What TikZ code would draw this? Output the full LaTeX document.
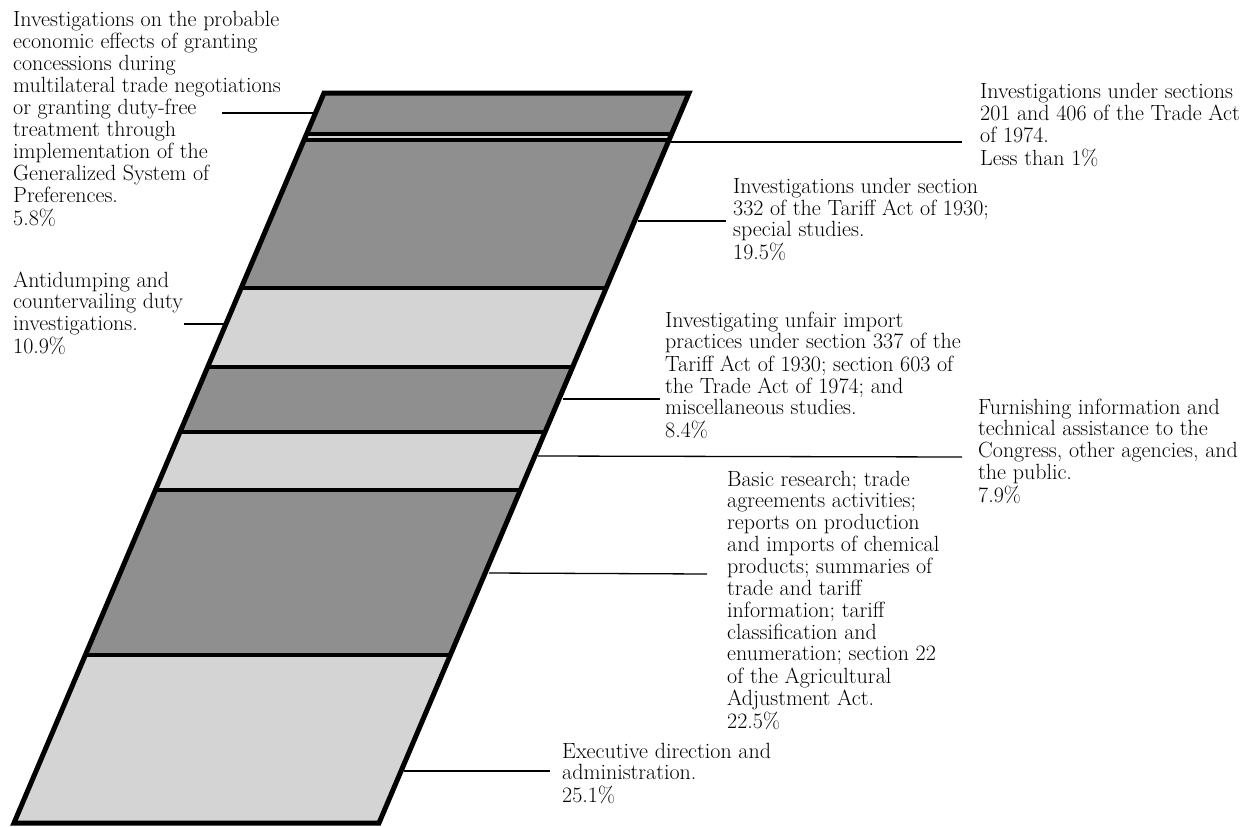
\documentclass[tikz,border=0pt]{standalone}
\usetikzlibrary{calc}
\definecolor{darkband}{gray}{0.56}
\definecolor{lightband}{gray}{0.83}
\begin{document}
\begin{tikzpicture}[x=1pt,y=-1pt,
  lbl/.style={inner sep=0pt,anchor=base west,font=\fontsize{22}{21.7}\selectfont},
  leader/.style={line width=1.3pt},
  darkfill/.style={fill=darkband},
  lightfill/.style={fill=lightband},
  sepline/.style={line width=3.5pt},
  border/.style={line width=5pt,line join=miter}]
\useasboundingbox (0,0) rectangle (1256,827);
% corners
\coordinate (TL) at (324,93);
\coordinate (TR) at (689,93);
\coordinate (BR) at (379,823);
\coordinate (BL) at (14,823);
% bands
\fill[darkfill]  (324,93) -- (689,93) -- (671.59,134) -- (306.59,134) -- cycle;
\fill[lightfill] (306.59,134) -- (671.59,134) -- (669.04,140) -- (304.04,140) -- cycle;
\fill[darkfill]  (304.04,140) -- (669.04,140) -- (606.19,288) -- (241.19,288) -- cycle;
\fill[lightfill] (241.19,288) -- (606.19,288) -- (572.64,367) -- (207.64,367) -- cycle;
\fill[darkfill]  (207.64,367) -- (572.64,367) -- (545.04,432) -- (180.04,432) -- cycle;
\fill[lightfill] (180.04,432) -- (545.04,432) -- (520.41,490) -- (155.41,490) -- cycle;
\fill[darkfill]  (155.41,490) -- (520.41,490) -- (450.34,655) -- (85.34,655) -- cycle;
\fill[lightfill] (85.34,655) -- (450.34,655) -- (379,823) -- (14,823) -- cycle;
% separators
\draw[sepline] (306.59,134) -- (671.59,134);
\draw[sepline] (304.04,140) -- (669.04,140);
\draw[sepline] (241.19,288) -- (606.19,288);
\draw[sepline] (207.64,367) -- (572.64,367);
\draw[sepline] (180.04,432) -- (545.04,432);
\draw[sepline] (155.41,490) -- (520.41,490);
\draw[sepline] (85.34,655) -- (450.34,655);
% border
\draw[border] (TL) -- (TR) -- (BR) -- (BL) -- cycle;

% labels
\node[lbl] (A) at (13,27) {\begin{tabular}[t]{@{}l@{}}Investigations on the probable\\economic effects of granting\\concessions during\\multilateral trade negotiations\\or granting duty-free\\treatment through\\implementation of the\\Generalized System of\\Preferences.\\5.8\%\end{tabular}};
\node[lbl] (B) at (980,98) {\begin{tabular}[t]{@{}l@{}}Investigations under sections\\201 and 406 of the Trade Act\\of 1974.\\Less than 1\%\end{tabular}};
\node[lbl] (C) at (733,193) {\begin{tabular}[t]{@{}l@{}}Investigations under section\\332 of the Tariff Act of 1930;\\special studies.\\19.5\%\end{tabular}};
\node[lbl] (D) at (13,287) {\begin{tabular}[t]{@{}l@{}}Antidumping and\\countervailing duty\\investigations.\\10.9\%\end{tabular}};
\node[lbl] (E) at (665,327) {\begin{tabular}[t]{@{}l@{}}Investigating unfair import\\practices under section 337 of the\\Tariff Act of 1930; section 603 of\\the Trade Act of 1974; and\\miscellaneous studies.\\8.4\%\end{tabular}};
\node[lbl] (F) at (978,414) {\begin{tabular}[t]{@{}l@{}}Furnishing information and\\technical assistance to the\\Congress, other agencies, and\\the public.\\7.9\%\end{tabular}};
\node[lbl] (G) at (727,486) {\begin{tabular}[t]{@{}l@{}}Basic research; trade\\agreements activities;\\reports on production\\and imports of chemical\\products; summaries of\\trade and tariff\\information; tariff\\classification and\\enumeration; section 22\\of the Agricultural\\Adjustment Act.\\22.5\%\end{tabular}};
\node[lbl] (H) at (562,758) {\begin{tabular}[t]{@{}l@{}}Executive direction and\\administration.\\25.1\%\end{tabular}};

% leader lines
\coordinate (a1) at (222,113); \coordinate (a2) at (313,113);
\coordinate (b1) at (671,142); \coordinate (b2) at (962,142);
\coordinate (c1) at (638,221); \coordinate (c2) at (726,221);
\coordinate (d1) at (184,324); \coordinate (d2) at (224,324);
\coordinate (e1) at (563,399); \coordinate (e2) at (660,399);
\coordinate (f1) at (538,456); \coordinate (f2) at (962,457);
\coordinate (g1) at (489,573); \coordinate (g2) at (707,574);
\coordinate (h1) at (404,771); \coordinate (h2) at (550,771);
\draw[leader] (a1) -- (a2);
\draw[leader] (b1) -- (b2);
\draw[leader] (c1) -- (c2);
\draw[leader] (d1) -- (d2);
\draw[leader] (e1) -- (e2);
\draw[leader] (f1) -- (f2);
\draw[leader] (g1) -- (g2);
\draw[leader] (h1) -- (h2);
\end{tikzpicture}
\end{document}
